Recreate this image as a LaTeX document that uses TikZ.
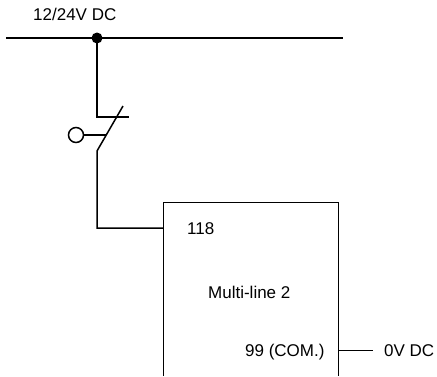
\documentclass[tikz,border=0pt]{standalone}
\usepackage{fontspec}
\setmainfont{Liberation Sans}
\tikzset{wire/.style={line width=1.5pt},thin wire/.style={line width=0.75pt},lab/.style={font=\fontsize{17pt}{20pt}\selectfont,inner sep=0pt,anchor=base west}}
\begin{document}
\begin{tikzpicture}[x=1pt,y=-1pt]
\useasboundingbox (0,0) rectangle (437,376);
\coordinate (busL) at (6,38);
\coordinate (busR) at (343,38);
\coordinate (j) at (97,38);
\coordinate (c1) at (97,117);
\coordinate (c2) at (129,117);
\coordinate (c3) at (123,106);
\coordinate (c4) at (97,151);
\coordinate (c5) at (97,228);
\coordinate (boxin) at (163,228);
\coordinate (boxout) at (338,350);
\coordinate (outend) at (373,350);
\draw[wire] (busL) -- (busR);
\fill (j) circle (5.5);
\draw[wire] (j) -- (c1) -- (c2);
\draw[wire] (c3) -- (c4) -- (c5) -- (boxin);
\node[circle,draw,line width=1.5pt,minimum size=15pt,inner sep=0pt] (o) at (76,135) {};
\coordinate (m) at (106,135);
\draw[wire] (o) -- (m);
\draw[thin wire] (163,376) -- (163,202) -- (338,202) -- (338,376);
\draw[thin wire] (boxout) -- (outend);
\node[lab] (t1) at (33,20) {12/24V DC};
\node[lab] (t2) at (187,234) {118};
\node[lab] (t3) at (208,298) {Multi-line 2};
\node[lab] (t4) at (245,356) {99 (COM.)};
\node[lab] (t5) at (384,356) {0V DC};
\end{tikzpicture}
\end{document}
